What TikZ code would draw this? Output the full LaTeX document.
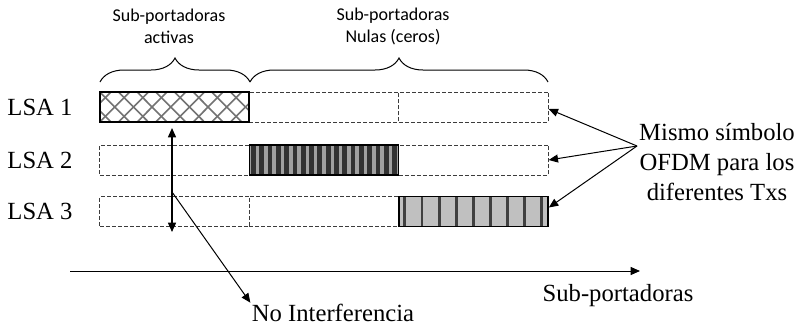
\documentclass[tikz,border=0pt]{standalone}
\usepackage{fontspec}
\setmainfont{Liberation Serif}
\newfontfamily\calibrifont{Carlito}
\usetikzlibrary{arrows.meta,calc,decorations.pathreplacing}

\definecolor{dashgray}{RGB}{60,60,60}
\definecolor{hatchgray}{RGB}{115,115,115}
\definecolor{stripedark}{RGB}{50,50,50}
\definecolor{stripelight}{RGB}{160,160,160}
\definecolor{barlight}{RGB}{192,192,192}
\definecolor{bardark}{RGB}{64,64,64}

\tikzset{every picture/.style={line width=0.75pt}}
\tikzset{
  emptycell/.style={draw=dashgray, dash pattern=on 3pt off 1.5pt, minimum width=112pt, minimum height=22.5pt, inner sep=0pt},
  fullcell/.style={draw=black, line width=1.1pt, minimum width=112pt, minimum height=22.5pt, inner sep=0pt},
  crosscell/.style={fullcell, fill=white, path picture={
    \foreach \k [evaluate=\k as \a using \k/8, evaluate=\k as \b using \k/8+0.2] in {-2,...,9} {
      \draw[hatchgray, line width=1.2pt] ($(path picture bounding box.north west)!\a!(path picture bounding box.north east)$) -- ($(path picture bounding box.south west)!\b!(path picture bounding box.south east)$);
      \draw[hatchgray, line width=1.2pt] ($(path picture bounding box.north west)!\b!(path picture bounding box.north east)$) -- ($(path picture bounding box.south west)!\a!(path picture bounding box.south east)$);
    }}},
  stripecell/.style={fullcell, fill=stripelight, path picture={
    \foreach \k [evaluate=\k as \a using (\k+0.5)/18] in {0,...,17} {
      \draw[stripedark, line width=3.6pt] ($(path picture bounding box.north west)!\a!(path picture bounding box.north east)$) -- ($(path picture bounding box.south west)!\a!(path picture bounding box.south east)$);
    }}},
  barcell/.style={fullcell, fill=barlight, path picture={
    \foreach \k [evaluate=\k as \a using (6+17.1*\k)/149] in {0,...,8} {
      \draw[bardark, line width=2.2pt] ($(path picture bounding box.north west)!\a!(path picture bounding box.north east)$) -- ($(path picture bounding box.south west)!\a!(path picture bounding box.south east)$);
    }}},
  serif/.style={font=\fontsize{18.5}{22.5}\selectfont, align=center, inner sep=0.75pt},
  toplabel/.style={font=\calibrifont\fontsize{13.5}{16.5}\selectfont, align=center, inner sep=0.75pt},
  tip/.style={-{Triangle[length=7pt,width=6pt]}},
}

\begin{document}
\begin{tikzpicture}[x=0.75pt,y=0.75pt,yscale=-1,xscale=1]
\useasboundingbox (0,0) rectangle (799,326);

%Shape: empty cells
\node[emptycell] (r1c2) at (324,107) {};
\node[emptycell] (r1c3) at (473.5,107) {};
\node[emptycell] (r2c1) at (174.5,160) {};
\node[emptycell] (r2c3) at (473.5,160) {};
\node[emptycell] (r3c1) at (174.5,211.5) {};
\node[emptycell] (r3c2) at (324,211.5) {};
%Shape: active cells
\node[crosscell] (r1c1) at (174.5,107) {};
\node[stripecell] (r2c2) at (324,160) {};
\node[barcell] (r3c3) at (473.5,211.5) {};

% Text Node
\node[serif] (lsa1) at (40,107) {LSA 1};
\node[serif] (lsa2) at (40,160) {LSA 2};
\node[serif] (lsa3) at (40,211.5) {LSA 3};
% Text Node
\node[toplabel] (actlbl) at (169,26) {Sub-portadoras\\activas};
\node[toplabel] (nullbl) at (393,26) {Sub-portadoras\\Nulas (ceros)};
% Text Node
\node[serif] (samesym) at (717,162) {Mismo símbolo\\OFDM para los\\diferentes Txs};
\node[serif] (axlbl) at (618,296) {Sub-portadoras};
\node[serif] (nointf) at (333,313) {No Interferencia};

%Braces
\coordinate (br0) at (100,82);
\coordinate (br1) at (250,82);
\coordinate (br2) at (548,82);
\draw[decorate, decoration={brace, amplitude=18pt}] (br0) -- (br1);
\draw[decorate, decoration={brace, amplitude=18pt}] (br1) -- (br2);

% Connection
\coordinate (da0) at (172,128);
\coordinate (da1) at (172,232);
\draw[{Triangle[length=7pt,width=6pt]}-{Triangle[length=7pt,width=6pt]}, line width=1.1pt] (da0) -- (da1);
\draw[tip] ($(da0)!0.615!(da1)$) -- (nointf.north west);
% Connection
\coordinate (conv) at (637,146);
\draw[tip] (conv) -- ($(r1c3.east)+(0,2)$);
\draw[tip] (conv) -- (r2c3.east);
\draw[tip] (conv) -- ($(r3c3.east)+(0,-4)$);
% Axis
\coordinate (ax0) at (70,271);
\coordinate (ax1) at (640,271);
\draw[tip] (ax0) -- (ax1);

\end{tikzpicture}
\end{document}
